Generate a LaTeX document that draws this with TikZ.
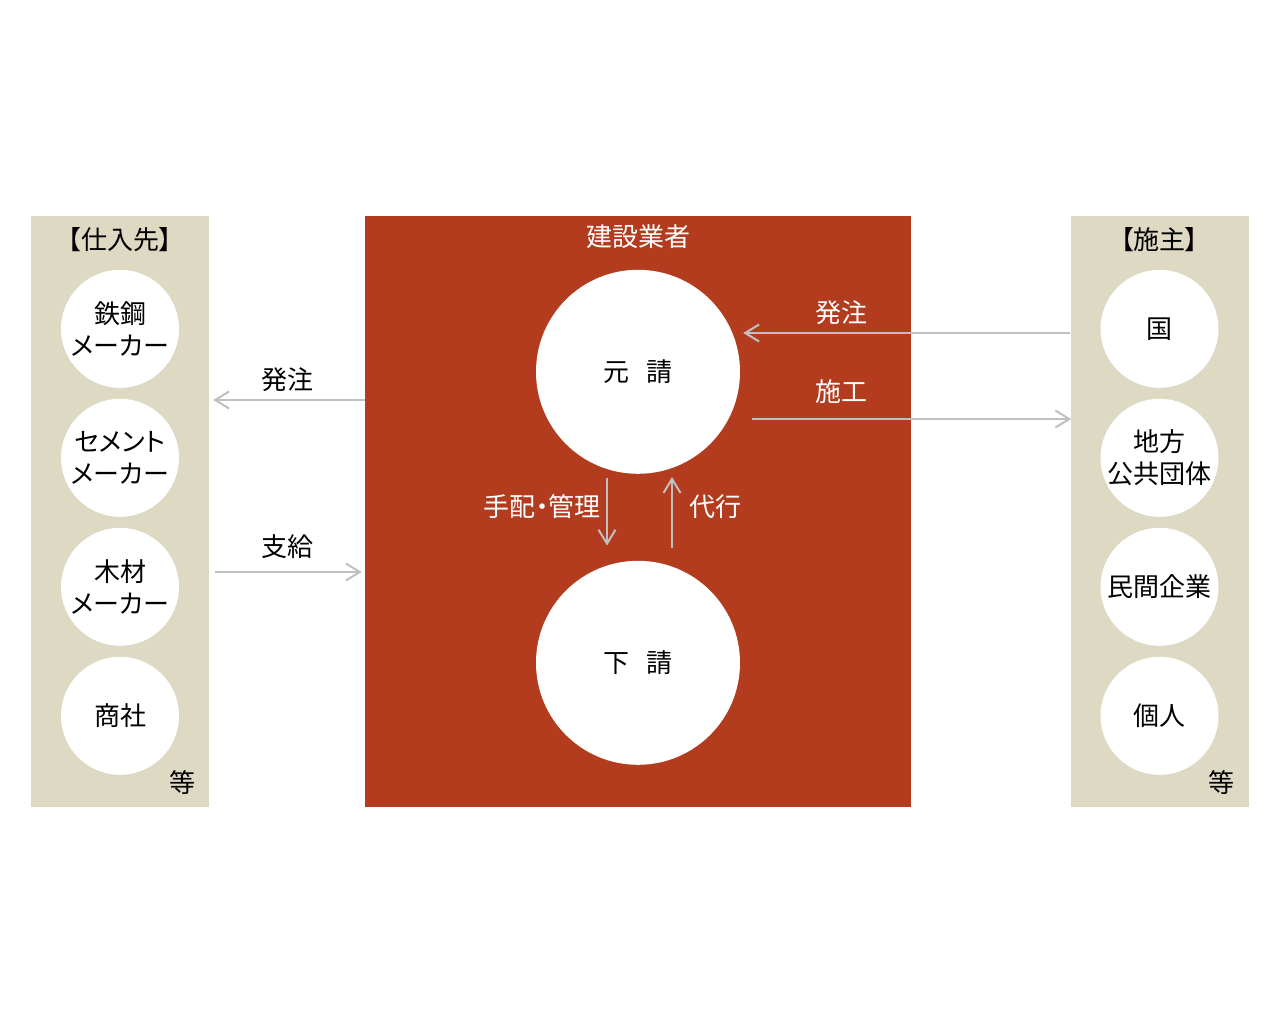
\documentclass[tikz,border=0pt]{standalone}
\usepackage{fontspec}
\setmainfont{Noto Sans CJK JP}[RawFeature=+palt]
\usetikzlibrary{arrows.meta, positioning}
\definecolor{panelbeige}{HTML}{DDD9C3}
\definecolor{firmred}{HTML}{B43C1E}
\definecolor{flowgray}{HTML}{C0C0C0}

\begin{document}
\begin{tikzpicture}[x=1pt,y=-1pt,node distance=129pt,on grid,>={Straight Barb[length=14pt,width=17pt]},
        font=\fontsize{26}{32}\selectfont,
        panel/.style={fill=panelbeige,minimum width=178pt,minimum height=591pt,inner sep=0pt},
        party/.style={circle,fill=white,minimum size=118pt,inner sep=0pt,align=center},
        contract/.style={circle,fill=white,minimum size=204pt,inner sep=0pt},
        flow/.style={draw=flowgray,line width=2pt,->}]
    \useasboundingbox[fill=white] (0,0) rectangle (1280,1024);

      \node[panel] (suppliers) at (120,511.5) {};
      \node[panel] (clients) at (1159.5,511.5) {};
      \node[panel,fill=firmred,minimum width=546pt] (firm) at (638,511.5) {};

      \node (suptitle) at ([yshift=-24pt]suppliers.north) {【仕入先】};
      \node[party] (steel) at ([yshift=-113pt]suppliers.north) {鉄鋼\\メーカー};
      \node[party] (cement) [below=of steel]  {セメント\\メーカー};
      \node[party] (timber) [below=of cement] {木材\\メーカー};
      \node[party] (trader) [below=of timber] {商社};
      \node (supetc) at ([xshift=-27pt,yshift=25pt]suppliers.south east) {等};

      \node (clititle) at ([yshift=-24pt]clients.north) {【施主】};
      \node[party] (state) at ([yshift=-113pt]clients.north) {国};
      \node[party] (local)   [below=of state]   {地方\\公共団体};
      \node[party] (private) [below=of local]   {民間企業};
      \node[party] (person)  [below=of private] {個人};
      \node (clietc) at ([xshift=-27pt,yshift=25pt]clients.south east) {等};

      \node[white] (firmtitle) at ([yshift=-21pt]firm.north) {建設業者};
      \node[contract] (motouke)  at ([yshift=-156pt]firm.north) {元\hspace{18pt}請};
      \node[contract] (shitauke) [below=291pt of motouke] {下\hspace{18pt}請};

      \draw[flow,shorten >=4pt] (firm.west |- 0,400) -- node[above=4pt,pos=0.5] {発注} (suppliers.east |- 0,400);
      \draw[flow,shorten <=6pt,shorten >=3pt] (suppliers.east |- 0,572) -- node[above=9pt,pos=0.5] {支給} (firm.west |- 0,572);
      \draw[flow] (clients.west |- 0,333) -- node[above=4pt,pos=0.7,white] {発注} ([xshift=3pt]motouke.east |- 0,333);
      \draw[flow,shorten >=-1pt] ([xshift=12pt]motouke.east |- 0,419) -- node[above=11pt,pos=0.28,white] {施工} (clients.west |- 0,419);
      \draw[flow,shorten <=4pt,shorten >=15pt] ([xshift=-31pt]motouke.south) -- node[left=2pt,yshift=11pt,white] {手配・管理} ([xshift=-31pt]shitauke.north);
      \draw[flow,shorten <=13pt,shorten >=3pt] ([xshift=34pt]shitauke.north) -- node[right=13pt,yshift=11pt,white] {代行} ([xshift=34pt]motouke.south);
    \end{tikzpicture}
\end{document}
